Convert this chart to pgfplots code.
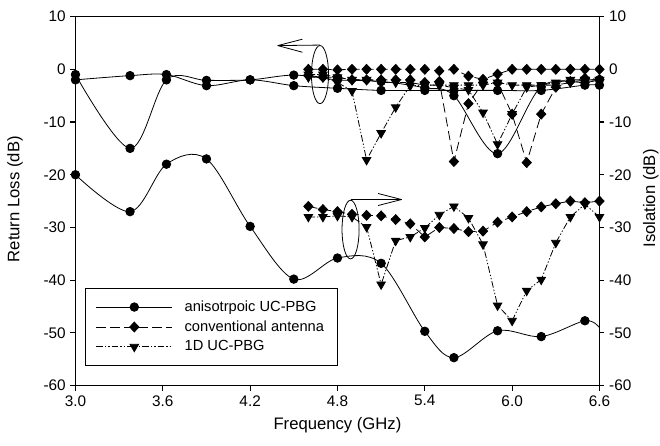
\documentclass[border=0pt]{standalone}
\usepackage{fontspec}
\setmainfont{Liberation Sans}
\usepackage{pgfplots}
\pgfplotsset{compat=1.18}

\pgfplotsset{
  frame/.style={
    width=393pt, height=276.75pt, scale only axis,
    xmin=3.0, xmax=6.6, ymin=-60, ymax=10,
    tick align=outside, major tick length=3.75pt,
    axis line style={line width=0.8pt},
    every tick/.style={line width=0.8pt, black},
    tick label style={font=\fontsize{11.5}{13}\selectfont},
    label style={font=\fontsize{12.5}{15}\selectfont},
    /pgf/number format/assume math mode=true,
    ytick={-60,-50,-40,-30,-20,-10,0,10},
  },
}

\begin{document}
\begin{tikzpicture}
\begin{axis}[
  frame,
  at={(0,0)}, anchor=south west,
  xtick={3.0,3.6,4.2,4.8,5.4,6.0,6.6},
  xticklabel style={/pgf/number format/.cd, fixed, fixed zerofill, precision=1},
  xtick pos=bottom, ytick pos=left,
  xlabel={Frequency (GHz)},
  ylabel={Return Loss (dB)},
  xlabel style={at={(axis description cs:0.5,-0.108)}, anchor=center},
  ylabel style={at={(axis description cs:-0.1155,0.505)}, anchor=center},
  clip=false,
  every axis plot/.append style={black, line width=0.6pt},
  legend image code/.code={
    \draw[#1, mark indices={2}] plot coordinates {(0cm,0cm) (1cm,0cm) (2cm,0cm)};
  },
  legend cell align=left,
  legend style={
    at={(axis description cs:0.018,0.055)}, anchor=south west,
    draw=black, line width=0.6pt, font=\fontsize{11}{13}\selectfont,
    inner xsep=8pt, inner ysep=7pt, row sep=1.5pt,
    /tikz/every odd column/.append style={column sep=7pt},
  },
  ani/.style={smooth, tension=0.55, mark=*, mark size=3.2pt, mark options={solid}},
  con/.style={dash pattern=on 7pt off 3.5pt, mark=diamond*, mark size=3.7pt, mark options={solid, xscale=1.25}},
  ucp/.style={dash pattern=on 5pt off 1.5pt on 1pt off 1.5pt on 1pt off 1.5pt, mark=triangle*, mark size=3.7pt, mark options={solid, rotate=180}},
]
% isolation, anisotropic UC-PBG
\addplot[ani, mark indices={1,2,3,4,5,6,7,8,9,10,11,12,13}] coordinates {
  (3.0,-20) (3.375,-27) (3.625,-18) (3.9,-17) (4.2,-29.8) (4.5,-39.8) (4.8,-35.8)
  (5.1,-36.8) (5.4,-49.7) (5.6,-54.7) (5.9,-49.6) (6.2,-50.7) (6.5,-47.7) (6.6,-49)
};
\addlegendentry{anisotrpoic UC-PBG}
% isolation, conventional antenna
\addplot[con] coordinates {
  (4.6,-26) (4.7,-26.6) (4.8,-27) (4.9,-27.5) (5.0,-27.7) (5.1,-27.8) (5.2,-28.5)
  (5.3,-29.3) (5.4,-31.8) (5.5,-30) (5.6,-30.2) (5.7,-30.8) (5.8,-30.7) (5.9,-29)
  (6.0,-28) (6.1,-27) (6.2,-26.1) (6.3,-25.5) (6.4,-25) (6.5,-25.3) (6.6,-25)
};
\addlegendentry{conventional antenna}
% isolation, 1D UC-PBG
\addplot[ucp] coordinates {
  (4.6,-28) (4.7,-28) (4.8,-27.8) (4.9,-28) (5.0,-29.9) (5.1,-40.8) (5.2,-32.5)
  (5.3,-31.8) (5.4,-30.1) (5.5,-27.6) (5.6,-26) (5.7,-28.2) (5.8,-33.2) (5.9,-44.8)
  (6.0,-47.7) (6.1,-42) (6.2,-39.9) (6.3,-32.9) (6.4,-28) (6.5,-25.6) (6.6,-28)
};
\addlegendentry{1D UC-PBG}

% return loss, anisotropic UC-PBG
\addplot[ani, forget plot] coordinates {
  (3.0,-1) (3.375,-15) (3.625,-2) (3.9,-2.1) (4.2,-2) (4.5,-1.1) (4.8,-2)
  (5.1,-2.3) (5.4,-3.5) (5.6,-5) (5.9,-16) (6.2,-3.3) (6.5,-2.5) (6.6,-2)
};
\addplot[ani, forget plot] coordinates {
  (3.0,-2) (3.375,-1.2) (3.625,-1) (3.9,-3.1) (4.2,-2) (4.5,-3.1) (4.8,-3.6)
  (5.1,-4) (5.4,-4) (5.6,-4) (5.9,-4) (6.2,-4) (6.5,-3) (6.6,-3)
};
% return loss, conventional antenna
\addplot[con, forget plot] coordinates {
  (4.6,0) (4.7,0) (4.8,-0.1) (4.9,0) (5.0,0) (5.1,0) (5.2,0) (5.3,0) (5.4,0)
  (5.5,-0.3) (5.6,0) (5.7,-1.3) (5.8,-1.9) (5.9,-0.9) (6.0,0) (6.1,0) (6.2,0)
  (6.3,0) (6.4,0) (6.5,0) (6.6,0)
};
\addplot[con, forget plot] coordinates {
  (4.6,-1.2) (4.7,-1.5) (4.8,-1.5) (4.9,-2) (5.0,-2) (5.1,-2) (5.2,-2) (5.3,-2)
  (5.4,-2.5) (5.5,-2.3) (5.6,-17.5) (5.7,-6.5) (5.8,-2.5) (5.9,-2.6) (6.0,-8.5)
  (6.1,-17.7) (6.2,-8.5) (6.3,-3.4) (6.4,-2.3) (6.5,-1.7) (6.6,-1.9)
};
% return loss, 1D UC-PBG
\addplot[ucp, forget plot] coordinates {
  (4.6,-1.5) (4.7,-1.5) (4.8,-2.5) (4.9,-4.1) (5.0,-17.2) (5.1,-12.1) (5.2,-7.2)
  (5.3,-3.1) (5.4,-3) (5.5,-3) (5.6,-3) (5.7,-3) (5.8,-3) (5.9,-2.5) (6.0,-3)
  (6.1,-3) (6.2,-3) (6.3,-2.5) (6.4,-2) (6.5,-2) (6.6,-2)
};
\addplot[ucp, forget plot] coordinates {
  (4.6,-1) (4.7,-1) (4.8,-1.5) (4.9,-2) (5.0,-2) (5.1,-2.5) (5.2,-2.5) (5.3,-2.5)
  (5.4,-3) (5.5,-3) (5.6,-3.5) (5.7,-3.9) (5.8,-8.2) (5.9,-14.2) (6.0,-8.5)
  (6.1,-3.4) (6.2,-3) (6.3,-3) (6.4,-2.5) (6.5,-2) (6.6,-2)
};

% ellipses and arrows marking which axis each group belongs to
\draw[line width=0.6pt] (axis cs:4.68,-1) ellipse [x radius=6.4pt, y radius=21.8pt];
\draw[line width=0.6pt] (axis cs:4.68,4.6) -- (axis cs:4.39,4.5);
\draw[line width=0.6pt] (axis cs:4.39,4.5) -- ++(18.5pt,4.8pt);
\draw[line width=0.6pt] (axis cs:4.39,4.5) -- ++(18.5pt,-5pt);

\draw[line width=0.6pt] (axis cs:4.89,-30.4) ellipse [x radius=6.4pt, y radius=22pt];
\draw[line width=0.6pt] (axis cs:4.89,-24.7) -- (axis cs:5.24,-24.7);
\draw[line width=0.6pt] (axis cs:5.24,-24.7) -- ++(-17.5pt,4.5pt);
\draw[line width=0.6pt] (axis cs:5.24,-24.7) -- ++(-17.5pt,-4.5pt);
\end{axis}

% right-hand axis: Isolation
\begin{axis}[
  frame,
  at={(0,0)}, anchor=south west,
  hide x axis,
  axis y line*=right,
  y axis line style={-},
  ytick pos=right,
  ylabel={Isolation (dB)},
  ylabel style={at={(axis description cs:1.098,0.507)}, anchor=center},
]
\end{axis}

\pgfresetboundingbox
\useasboundingbox (-56.6pt,-44.6pt) rectangle (438.4pt,289.2pt);
\end{tikzpicture}
\end{document}
